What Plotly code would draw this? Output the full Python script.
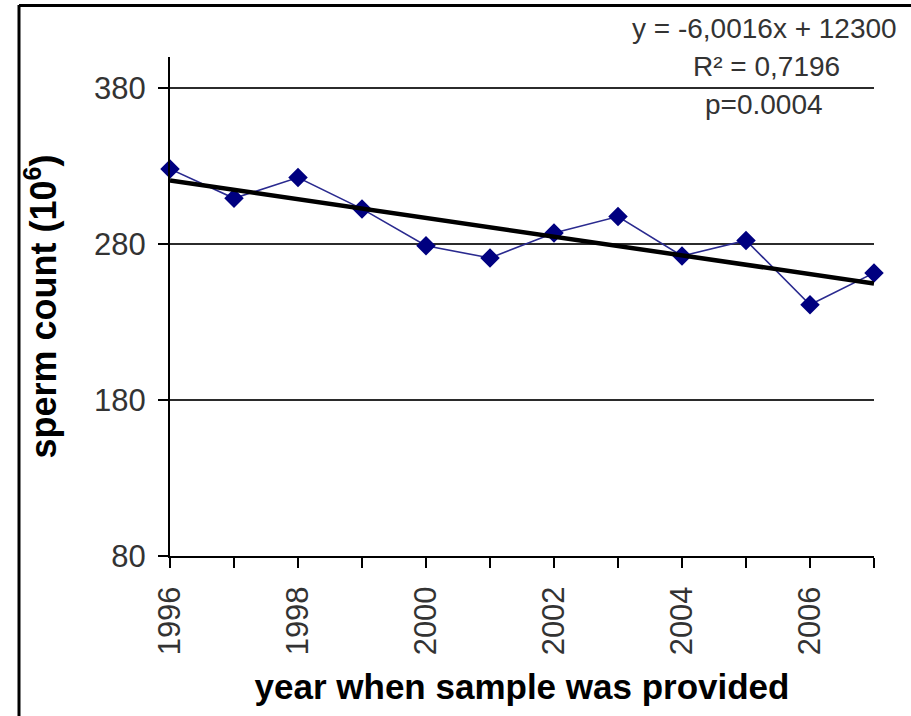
import plotly.graph_objects as go

# Annual mean sperm count by year of sample
years = [1996, 1997, 1998, 1999, 2000, 2001, 2002, 2003, 2004, 2005, 2006, 2007]
sperm_count = [328.2, 309.4, 322.7, 302.6, 279.0, 271.1, 287.2, 297.7, 272.4, 282.4, 241.1, 261.5]

# Linear trend reported on the chart
slope = -6.0016
intercept = 12300
r_squared_label = "0,7196"
p_value_label = "0.0004"

y_ticks = [80, 180, 280, 380]
x_ticks = [1996, 1998, 2000, 2002, 2004, 2006]

W, H = 911, 716
L, R, T, B = 170, 37, 57, 160
PW, PH = W - L - R, H - T - B


def px(x):
    return (x - L) / PW


def py(y):
    return (H - B - y) / PH


FONT = "Arial, 'Liberation Sans', Helvetica, sans-serif"

trend_x = [years[0], years[-1]]
trend_y = [slope * x + intercept for x in trend_x]

fig = go.Figure()
fig.add_trace(go.Scatter(
    x=years, y=sperm_count, mode="lines+markers",
    line=dict(color="#2a2a8f", width=1.6),
    marker=dict(symbol="diamond", size=15, color="#000080",
                line=dict(width=0)),
    cliponaxis=False, showlegend=False,
))
fig.add_trace(go.Scatter(
    x=trend_x, y=trend_y, mode="lines",
    line=dict(color="black", width=4.5),
    cliponaxis=False, showlegend=False,
))

fig.update_layout(
    width=W, height=H,
    margin=dict(l=L, r=R, t=T, b=B),
    paper_bgcolor="white", plot_bgcolor="white",
    font=dict(family=FONT, color="#333333"),
    xaxis=dict(
        range=[1996, 2007], tickmode="array", tickvals=x_ticks,
        ticktext=[str(v) for v in x_ticks], tickangle=-90,
        ticks="outside", ticklen=10, tickwidth=2, tickcolor="black",
        minor=dict(dtick=1, tick0=1996, ticks="outside", ticklen=10,
                   tickwidth=2, tickcolor="black", showgrid=False),
        showline=True, linecolor="black", linewidth=2,
        showgrid=False, zeroline=False,
        tickfont=dict(size=31, color="#333333"),
        ticklabelstandoff=6,
        title=dict(text="<b>year when sample was provided</b>",
                   font=dict(size=35, color="black"), standoff=20),
    ),
    yaxis=dict(
        range=[80, 400], tickmode="array", tickvals=y_ticks,
        ticks="outside", ticklen=10, tickwidth=2, tickcolor="black",
        showline=True, linecolor="black", linewidth=2,
        showgrid=True, gridcolor="#2b2b2b", gridwidth=2,
        zeroline=False,
        tickfont=dict(size=31, color="#333333"),
        ticklabelstandoff=6,
        title=dict(text="<b>sperm count (10<sup>6</sup>)</b>",
                   font=dict(size=36, color="black"), standoff=26),
    ),
)

# Regression statistics in the upper right corner
stats = [
    (f"y = {slope:.4f}x + {intercept}".replace(".", ","), 764, 28),
    (f"R² = {r_squared_label}", 766, 66),
    (f"p={p_value_label}", 764, 104),
]
for text, cx, cy in stats:
    fig.add_annotation(
        text=text, xref="paper", yref="paper", x=px(cx), y=py(cy),
        xanchor="center", yanchor="middle", showarrow=False,
        font=dict(size=28, color="#333333", family=FONT),
    )

# Frame along the top and left edges
fig.add_shape(type="line", xref="paper", yref="paper",
              x0=px(19), y0=py(5.5), x1=px(W + 5), y1=py(5.5),
              line=dict(color="black", width=3))
fig.add_shape(type="line", xref="paper", yref="paper",
              x0=px(19), y0=py(5), x1=px(19), y1=py(H + 5),
              line=dict(color="black", width=3))

fig.write_html("out.html")
